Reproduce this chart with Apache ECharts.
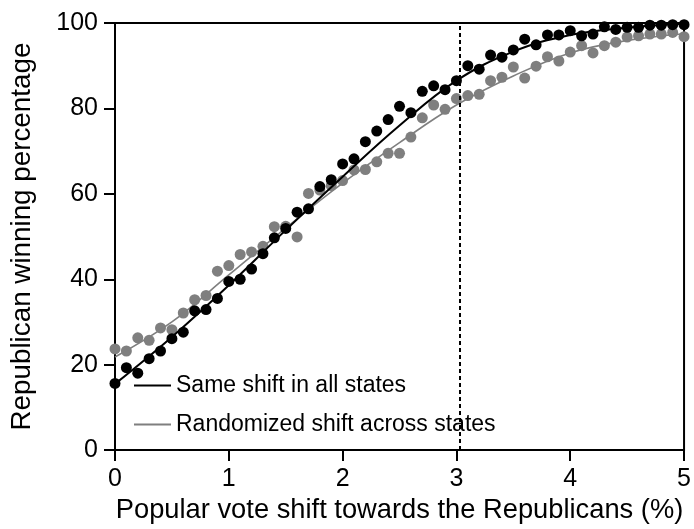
<!DOCTYPE html>
<html>
<head>
<meta charset="utf-8">
<script src="https://cdn.jsdelivr.net/npm/echarts@6/dist/echarts.min.js"></script>
<style>html,body{margin:0;padding:0;background:#fff}#c{width:694px;height:529px}</style>
</head>
<body>
<div id="c"></div>
<script>
// ---- data ----
const xShift = [0,0.1,0.2,0.3,0.4,0.5,0.6,0.7,0.8,0.9,1.0,1.1,1.2,1.3,1.4,1.5,1.6,1.7,1.8,1.9,2.0,
  2.1,2.2,2.3,2.4,2.5,2.6,2.7,2.8,2.9,3.0,3.1,3.2,3.3,3.4,3.5,3.6,3.7,3.8,3.9,4.0,
  4.1,4.2,4.3,4.4,4.5,4.6,4.7,4.8,4.9,5.0];
const sameShiftPts = [15.6,19.3,18.0,21.4,23.2,26.1,27.6,32.6,32.9,35.5,39.5,40.0,42.4,46.0,49.7,51.9,55.7,56.5,61.7,63.3,67.0,
  68.2,72.2,74.7,77.4,80.5,79.0,84.0,85.3,84.4,86.5,90.0,89.2,92.5,92.0,93.7,96.2,94.9,97.2,97.2,98.2,
  97.0,97.4,99.1,98.5,99.0,99.0,99.5,99.5,99.6,99.6];
const randomShiftPts = [23.7,23.2,26.3,25.7,28.6,28.2,32.1,35.2,36.2,41.9,43.2,45.8,46.4,47.7,52.3,52.4,49.9,60.1,60.9,61.9,63.1,
  65.6,65.7,67.5,69.5,69.5,73.3,77.8,80.8,79.8,82.3,83.0,83.3,86.5,87.3,89.7,87.1,89.9,92.1,91.1,93.2,
  94.7,93.0,94.7,95.5,96.7,97.0,97.4,97.4,97.8,96.8];
const fitX = [0,0.5,1.0,1.5,2.0,2.5,3.0,3.5,4.0,4.5,5.0];
const sameShiftFit = [15.5,26.5,38.6,51.5,64.0,76.0,86.5,93.3,97.2,98.9,99.8];
const randomShiftFit = [21.8,30.0,41.0,52.0,62.5,72.0,80.8,87.6,93.0,95.9,97.5];
const referenceShift = 3.03;
const xTicks = [0,1,2,3,4,5];
const yTicks = [0,20,40,60,80,100];
const seriesNames = ['Same shift in all states','Randomized shift across states'];

const pair = (xs, ys) => xs.map((x, i) => [x, ys[i]]);
const FONT = '"Liberation Sans", Arial, sans-serif';
const chart = echarts.init(document.getElementById('c'), null, {renderer: 'canvas'});
chart.setOption({
  animation: false,
  backgroundColor: '#fff',
  textStyle: {fontFamily: FONT, color: '#000'},
  grid: {left: 112, right: 8, top: 23, bottom: 75, show: true, borderColor: '#000', borderWidth: 2, containLabel: false},
  legend: {
    data: seriesNames,
    orient: 'vertical',
    left: 129, top: 369,
    icon: 'rect', itemWidth: 37, itemHeight: 2, itemGap: 16,
    textStyle: {fontFamily: FONT, fontSize: 23, color: '#000', padding: [0,0,0,0]},
    selectedMode: false
  },
  xAxis: {
    type: 'value', min: xTicks[0], max: xTicks[xTicks.length-1], interval: 1,
    name: 'Popular vote shift towards the Republicans (%)',
    nameLocation: 'middle', nameGap: 46,
    nameTextStyle: {fontFamily: FONT, fontSize: 27.3, color: '#000'},
    axisLine: {show: true, onZero: false, lineStyle: {color: '#000', width: 2}},
    axisTick: {show: true, inside: false, length: 11, lineStyle: {color: '#000', width: 2}},
    axisLabel: {margin: 17, fontSize: 25, color: '#000', fontFamily: FONT},
    splitLine: {show: false}
  },
  yAxis: {
    type: 'value', min: yTicks[0], max: yTicks[yTicks.length-1], interval: 20,
    name: 'Republican winning percentage',
    nameLocation: 'middle', nameGap: 79,
    nameTextStyle: {fontFamily: FONT, fontSize: 27.8, color: '#000'},
    axisLine: {show: true, lineStyle: {color: '#000', width: 2}},
    axisTick: {show: true, inside: false, length: 11, lineStyle: {color: '#000', width: 2}},
    axisLabel: {margin: 17, fontSize: 25, color: '#000', fontFamily: FONT},
    splitLine: {show: false}
  },
  series: [
    {name: 'randomPts', type: 'scatter', data: pair(xShift, randomShiftPts), symbolSize: 11,
      itemStyle: {color: '#7f7f7f', opacity: 1}, z: 2},
    {name: seriesNames[1], type: 'line', data: pair(fitX, randomShiftFit), smooth: 0.4, showSymbol: false,
      symbol: 'none', lineStyle: {color: '#7f7f7f', width: 1.6}, itemStyle: {color: '#7f7f7f'}, z: 3},
    {name: 'samePts', type: 'scatter', data: pair(xShift, sameShiftPts), symbolSize: 11,
      itemStyle: {color: '#000', opacity: 1}, z: 4},
    {name: seriesNames[0], type: 'line', data: pair(fitX, sameShiftFit), smooth: 0.4, showSymbol: false,
      symbol: 'none', lineStyle: {color: '#000', width: 2}, itemStyle: {color: '#000'}, z: 5,
      markLine: {silent: true, symbol: 'none', label: {show: false},
        lineStyle: {color: '#000', width: 2, type: [4, 3]},
        data: [{xAxis: referenceShift}]}}
  ]
});
</script>
</body>
</html>
